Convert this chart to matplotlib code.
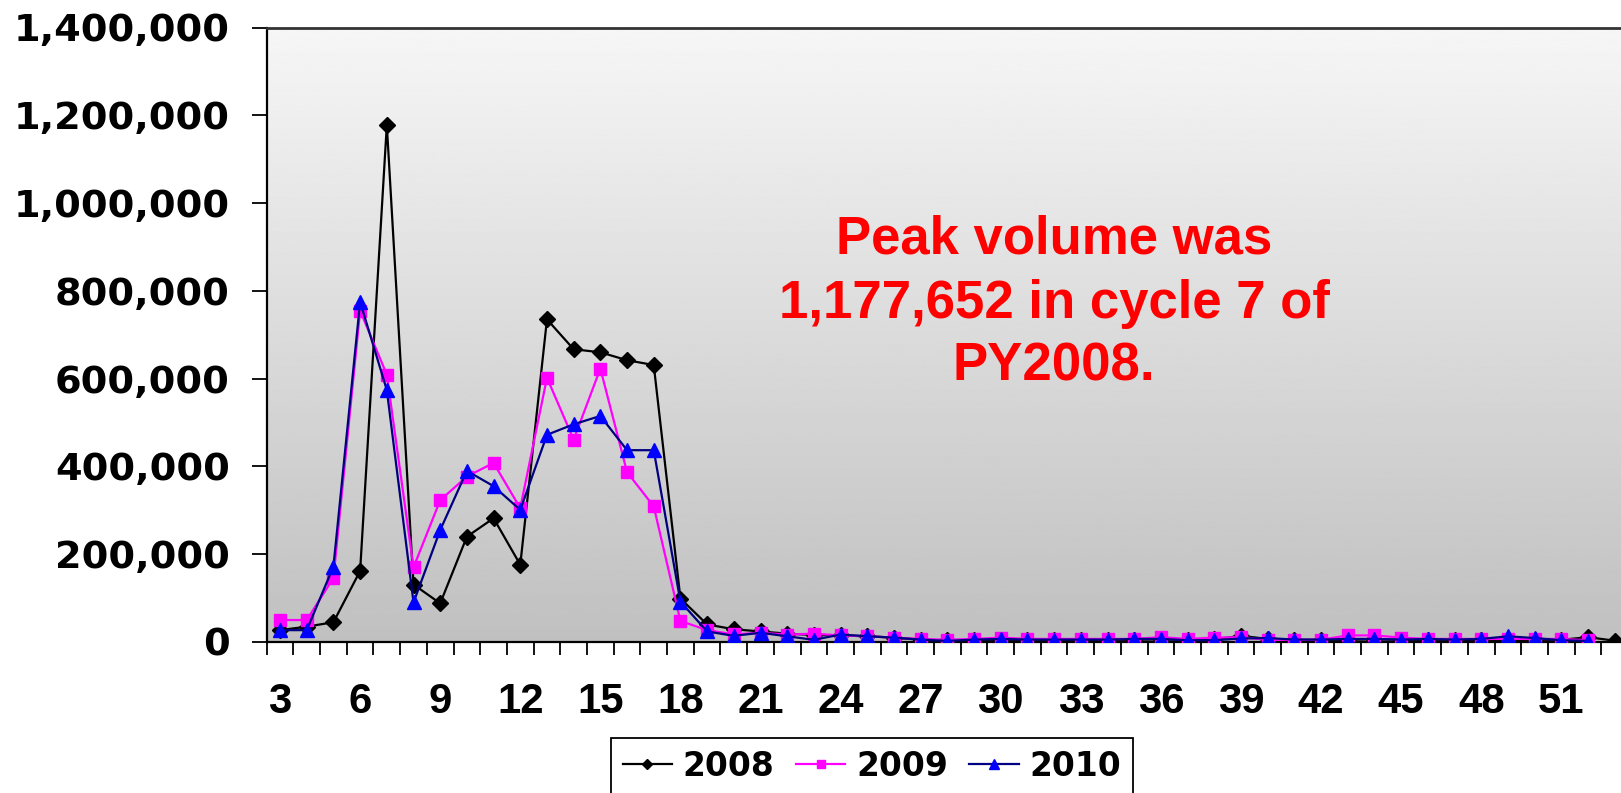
import matplotlib
matplotlib.use("Agg")
import matplotlib.pyplot as plt
import numpy as np
from matplotlib.ticker import FixedLocator, FuncFormatter

# ---- data ----
cycles_2008 = list(range(3, 54))
cycles_0910 = list(range(3, 53))

vol_2008 = [27000, 35000, 45000, 162000, 1177652, 131000, 88000, 240000, 282000, 176000,
            735000, 667000, 660000, 642000, 631000, 99000, 40000, 29000, 24000, 19000,
            16000, 15000, 13000, 10000,
            5000, 4000, 5000, 5000, 5000, 4000, 4000, 5000, 5000, 6000, 5000, 6000, 14000,
            7000, 5000, 5000, 5000, 6000, 5000, 5000, 5000, 4000, 4000, 5000, 5000, 11000, 3000]
vol_2009 = [50000, 50000, 146000, 755000, 609000, 170000, 323000, 377000, 408000, 305000,
            602000, 461000, 623000, 387000, 309000, 48000, 27000, 17500, 21000, 17000,
            19000, 15000, 13000, 10000, 7000, 5000, 7000, 10000, 7000, 7000,
            7000, 7000, 7000, 11000, 7000, 10000, 11000, 5000, 5000, 5000,
            15000, 15000, 10000, 7000, 7000, 7000, 7000, 7000, 7000, 4000]
vol_2010 = [27000, 27000, 172000, 775000, 574000, 90000, 255000, 390000, 355000, 301000,
            472000, 496000, 515000, 437000, 437000, 92000, 24000, 14000, 21000, 13000,
            5000, 17000, 13000, 10000, 5500, 2500, 5500, 7000, 5500, 5500,
            5500, 5500, 7000, 7000, 4000, 4000, 8000, 9000, 5500, 5500,
            7000, 7000, 5500, 7000, 5500, 7000, 13000, 9000, 4000, 2500]

x_label_ticks = list(range(3, 52, 3))
y_ticks = [0, 200000, 400000, 600000, 800000, 1000000, 1200000, 1400000]
annotation_lines = ["Peak volume was", "1,177,652 in cycle 7 of", "PY2008."]

W, H = 1621, 793
fig = plt.figure(figsize=(W / 100, H / 100), dpi=100)
fig.patch.set_facecolor("white")

left_px, right_px, top_px, bottom_px = 266.7, 1628.0, 27.5, 642.0
ax = fig.add_axes([left_px / W, 1 - bottom_px / H, (right_px - left_px) / W, (bottom_px - top_px) / H])

# gradient background
grad = np.linspace(0xc0 / 255, 0xf6 / 255, 256).reshape(-1, 1)
ax.imshow(grad, extent=[0, 1, 0, 1], transform=ax.transAxes, origin="lower",
          cmap="gray", vmin=0, vmax=1, aspect="auto", zorder=0)

ax.plot(cycles_2008, vol_2008, color="black", lw=1.6, marker="D", ms=8,
        mfc="black", mec="black", label="2008", zorder=3)
ax.plot(cycles_0910, vol_2009, color="#ff00ff", lw=1.6, marker="s", ms=9,
        mfc="#ff00ff", mec="#ff00ff", label="2009", zorder=4)
ax.plot(cycles_0910, vol_2010, color="#000080", lw=1.6, marker="^", ms=10,
        mfc="#0000ff", mec="#0000ff", label="2010", zorder=5)

ax.set_xlim(2.5, 53.5)
ax.set_ylim(0, 1400000)

# y axis
ax.yaxis.set_major_locator(FixedLocator(y_ticks))
ax.yaxis.set_major_formatter(FuncFormatter(lambda v, p: f"{int(v):,}"))
ax.tick_params(axis="y", direction="out", length=11, width=1.3, pad=15.5, color="black")
for lab in ax.get_yticklabels():
    lab.set_fontfamily("DejaVu Sans")
    lab.set_fontweight("bold")
    lab.set_fontsize(27.5)

# x axis: tick marks between categories, labels every third category
ax.xaxis.set_major_locator(FixedLocator(x_label_ticks))
ax.xaxis.set_major_formatter(FuncFormatter(lambda v, p: f"{int(round(v))}"))
ax.xaxis.set_minor_locator(FixedLocator(np.arange(2.5, 54, 1.0)))
ax.tick_params(axis="x", which="major", length=0, pad=29)
ax.tick_params(axis="x", which="minor", direction="out", length=9.5, width=1.3, color="black")
for lab in ax.get_xticklabels():
    lab.set_fontfamily("Liberation Sans")
    lab.set_fontweight("bold")
    lab.set_fontsize(30.2)

# spines
ax.spines["left"].set_color("black")
ax.spines["left"].set_linewidth(1.6)
ax.spines["bottom"].set_color("black")
ax.spines["bottom"].set_linewidth(1.6)
ax.spines["top"].set_color("#333333")
ax.spines["top"].set_linewidth(2.0)
ax.spines["right"].set_visible(False)

# annotation
baselines = [253.3, 317.7, 380.7]
for line, yb in zip(annotation_lines, baselines):
    fig.text(1054 / W, 1 - yb / H, line, color="#ff0000", fontfamily="Liberation Sans",
             fontweight="bold", fontsize=38, ha="center", va="baseline")

# legend
leg = fig.legend(loc="upper center", bbox_to_anchor=(872 / W, 1 - 738 / H), ncol=3,
                 prop={"family": "DejaVu Sans", "weight": "bold", "size": 23.7},
                 frameon=True, fancybox=False, edgecolor="black", facecolor="white",
                 framealpha=1, borderpad=0.35, handlelength=1.5, handletextpad=0.33,
                 columnspacing=0.65, markerscale=0.7, borderaxespad=0)
leg.get_frame().set_linewidth(1.3)

fig.savefig("out.png", dpi=100)
